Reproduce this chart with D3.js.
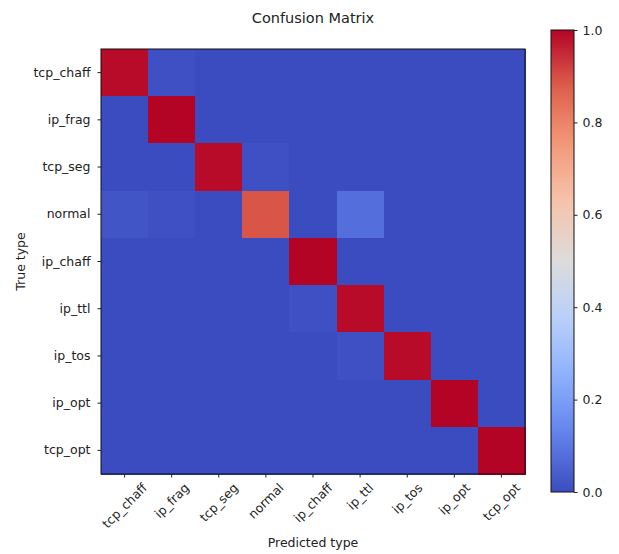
<!DOCTYPE html>
<html>
<head>
<meta charset="utf-8">
<script src="https://cdn.jsdelivr.net/npm/d3@7"></script>
<style>
  body { margin: 0; background: #fff; }
  text { font-family: "DejaVu Sans", sans-serif; fill: #222; }
</style>
</head>
<body>
<div id="cm"></div>
<script>
// class labels (rows = true type, columns = predicted type)
var classes = ["tcp_chaff", "ip_frag", "tcp_seg", "normal", "ip_chaff", "ip_ttl", "ip_tos", "ip_opt", "tcp_opt"];

// normalised confusion matrix
var matrix = [
  [0.99, 0.01, 0.00, 0.00, 0.00, 0.00, 0.00, 0.00, 0.00],
  [0.00, 1.00, 0.00, 0.00, 0.00, 0.00, 0.00, 0.00, 0.00],
  [0.00, 0.00, 0.99, 0.01, 0.00, 0.00, 0.00, 0.00, 0.00],
  [0.02, 0.01, 0.00, 0.89, 0.00, 0.08, 0.00, 0.00, 0.00],
  [0.00, 0.00, 0.00, 0.00, 1.00, 0.00, 0.00, 0.00, 0.00],
  [0.00, 0.00, 0.00, 0.00, 0.01, 0.99, 0.00, 0.00, 0.00],
  [0.00, 0.00, 0.00, 0.00, 0.00, 0.01, 0.99, 0.00, 0.00],
  [0.00, 0.00, 0.00, 0.00, 0.00, 0.00, 0.00, 1.00, 0.00],
  [0.00, 0.00, 0.00, 0.00, 0.00, 0.00, 0.00, 0.00, 1.00]
];

var colorbarTicks = [0.0, 0.2, 0.4, 0.6, 0.8, 1.0];

// matplotlib "coolwarm" sampled at 9 points
var cwStops = [0, 0.125, 0.25, 0.375, 0.5, 0.625, 0.75, 0.875, 1];
var cwColors = ["#3b4cc0", "#6282ea", "#8db0fe", "#b8d0f9", "#dddcdc", "#f5c4ac", "#f49a7b", "#de604d", "#b40426"];

var width = 619, height = 554;
var plot = {left: 101, top: 49, right: 525, bottom: 474};
var cbar = {left: 551, right: 574, top: 30, bottom: 492};

var svg = d3.select("#cm")
  .append("svg")
    .attr("width", width)
    .attr("height", height);

var color = d3.scaleLinear()
  .domain(cwStops)
  .range(cwColors)
  .interpolate(d3.interpolateRgb);

var x = d3.scaleBand()
  .domain(classes)
  .range([plot.left, plot.right]);

var y = d3.scaleBand()
  .domain(classes)
  .range([plot.top, plot.bottom]);

// cells
var cells = [];
matrix.forEach(function(row, i) {
  row.forEach(function(v, j) {
    cells.push({t: classes[i], p: classes[j], v: v});
  });
});

svg.append("g")
  .attr("shape-rendering", "crispEdges")
  .selectAll("rect")
  .data(cells)
  .join("rect")
    .attr("x", d => x(d.p))
    .attr("y", d => y(d.t))
    .attr("width", x.bandwidth() + 0.5)
    .attr("height", y.bandwidth() + 0.5)
    .attr("fill", d => color(d.v));

svg.append("rect")
  .attr("x", plot.left)
  .attr("y", plot.top)
  .attr("width", plot.right - plot.left)
  .attr("height", plot.bottom - plot.top)
  .attr("fill", "none")
  .attr("stroke", "#111")
  .attr("stroke-width", 1);

// axes
var fs = 12.5;

var yAxis = svg.append("g")
  .attr("transform", `translate(${plot.left},0)`)
  .call(d3.axisLeft(y).tickSize(3.5).tickPadding(7));
yAxis.select(".domain").remove();
yAxis.selectAll("text").style("font-size", fs + "px").attr("fill", "#222");
yAxis.selectAll("line").attr("stroke", "#222");

var xAxis = svg.append("g")
  .attr("transform", `translate(0,${plot.bottom})`)
  .call(d3.axisBottom(x).tickSize(3.5).tickFormat(""));
xAxis.select(".domain").remove();
xAxis.selectAll("line").attr("stroke", "#222");

// rotated x labels, centred under each tick (matplotlib rotation=45, ha=center)
svg.append("g")
  .selectAll("text")
  .data(classes)
  .join("text")
    .style("font-size", fs + "px")
    .attr("text-anchor", "middle")
    .attr("dominant-baseline", "central")
    .text(d => d)
    .each(function(d) {
      var L = this.getComputedTextLength();
      var half = (L + fs) * Math.SQRT1_2 / 2;
      var cx = x(d) + x.bandwidth() / 2;
      var cy = plot.bottom + 7 + half;
      d3.select(this).attr("transform", `translate(${cx},${cy}) rotate(-45)`);
    });

// titles
svg.append("text")
  .attr("x", (plot.left + plot.right) / 2)
  .attr("y", 23)
  .attr("text-anchor", "middle")
  .style("font-size", "14.5px")
  .text("Confusion Matrix");

svg.append("text")
  .attr("x", (plot.left + plot.right) / 2)
  .attr("y", 547)
  .attr("text-anchor", "middle")
  .style("font-size", fs + "px")
  .text("Predicted type");

svg.append("text")
  .attr("transform", `translate(25,${(plot.top + plot.bottom) / 2}) rotate(-90)`)
  .attr("text-anchor", "middle")
  .style("font-size", fs + "px")
  .text("True type");

// colour bar
var grad = svg.append("defs").append("linearGradient")
  .attr("id", "cw")
  .attr("x1", 0).attr("y1", 1).attr("x2", 0).attr("y2", 0);
grad.selectAll("stop")
  .data(d3.range(0, 1.0001, 0.02))
  .join("stop")
    .attr("offset", d => d)
    .attr("stop-color", d => color(d));

var cy = d3.scaleLinear()
  .domain([0, 1])
  .range([cbar.bottom, cbar.top]);

svg.append("rect")
  .attr("x", cbar.left)
  .attr("y", cbar.top)
  .attr("width", cbar.right - cbar.left)
  .attr("height", cbar.bottom - cbar.top)
  .attr("fill", "url(#cw)")
  .attr("stroke", "#111")
  .attr("stroke-width", 1);

var cAxis = svg.append("g")
  .attr("transform", `translate(${cbar.right},0)`)
  .call(d3.axisRight(cy).tickValues(colorbarTicks).tickFormat(d3.format(".1f")).tickSize(3.5).tickPadding(5));
cAxis.select(".domain").remove();
cAxis.selectAll("text").style("font-size", fs + "px").attr("fill", "#222");
cAxis.selectAll("line").attr("stroke", "#222");
</script>
</body>
</html>
